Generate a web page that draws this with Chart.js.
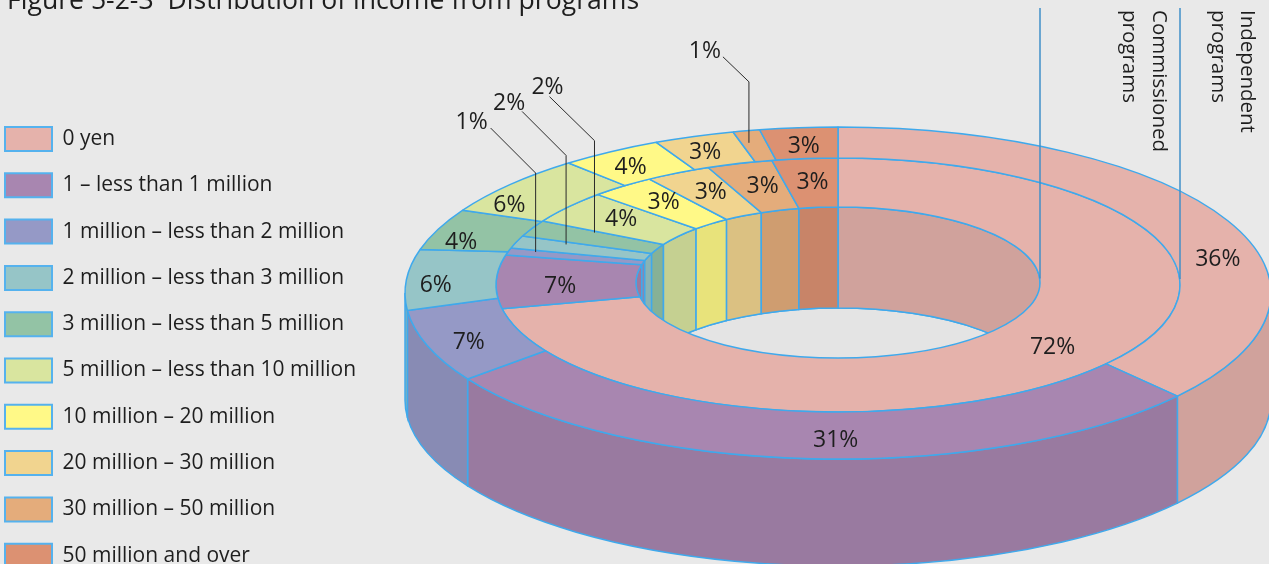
<!DOCTYPE html>
<html>
<head>
<meta charset="utf-8">
<style>html,body{margin:0;padding:0;background:#e9e9e9;overflow:hidden}#w{width:1269px;height:564px;position:relative}</style>
<script src="https://cdn.jsdelivr.net/npm/chart.js@4"></script>
</head>
<body>
<div id="w"><canvas id="c" width="1269" height="564"></canvas></div>
<script>
const titleText = 'Figure 5-2-3  Distribution of income from programs';
const categories = ['0 yen','1 – less than 1 million','1 million – less than 2 million','2 million – less than 3 million','3 million – less than 5 million','5 million – less than 10 million','10 million – 20 million','20 million – 30 million','30 million – 50 million','50 million and over'];
const independentValues = [35.7,30.7,7,5.9,4.1,6,3.8,3,1,2.9];
const commissionedValues = [72,6.8,0.9,1.6,2.1,4.2,3.1,3.1,3.1,3.1];
const sliceColors = ['#E5B2AB','#A886B0','#9599C6','#96C5C7','#93C3A5','#D9E59F','#FFF987','#F1D48F','#E4AC7B','#DC9172'];
const seriesNames = [['Independent','programs'],['Commissioned','programs']];

/* label nudges from each slice's projected centre */
const independentNudge = [[31,32],[22,3],[-2,5],[-16,6],[-19,8],[-35,10],[-4,1],[-4,0],[-7,-3],[1,1]];
const commissionedNudge = [[5,-3],[-6,3],[-40,-5],[-16,-5],[0,-6],[-2,-4],[-3,-5],[0,-4],[3,-2],[1,-3]];
/* leader lines: dataset, slice, rise to the knee, start and label offset from the knee */
const leaders = [
  {ds:1,i:2,rise:79,start:[-45,-45],label:[-64,-53]},
  {ds:1,i:3,rise:89,start:[-44,-44],label:[-57,-54]},
  {ds:1,i:4,rise:92,start:[-45,-44],label:[-47,-55]},
  {ds:0,i:8,rise:61,start:[-26,-25],label:[-44,-32]}
];

const BORDER = '#3FA9EC', LINE = '#3F8FC8', INK = '#1e1e1e', FLOOR = '#e4e4e4';
const FF = '"Open Sans", sans-serif';
const CX = 838, OUT = 433, MID = 342, HOLE = 202;
const OUT_DEPTH = 107, HOLE_DEPTH = 101;
const rings = [[HOLE,282.5,75.5],[MID,285,127],[OUT,293,166]];

function ringAt(r){
  let a = rings[0], b = rings[1];
  if (r > MID){ a = rings[1]; b = rings[2]; }
  const t = (r-a[0])/(b[0]-a[0]);
  return {cy:a[1]+(b[1]-a[1])*t, ry:a[2]+(b[2]-a[2])*t};
}
function project(r,ang){
  const g = ringAt(r);
  return {x:CX+r*Math.cos(ang), y:g.cy+g.ry*Math.sin(ang)};
}
function darken(hex){
  const n = parseInt(hex.slice(1),16), f = 0.91;
  return 'rgb('+[(n>>16)&255,(n>>8)&255,n&255].map(v=>Math.round(v*f)).join(',')+')';
}
function wall(ctx,r,a0,a1,depth,color){
  if (a1<=a0) return;
  const g = ringAt(r);
  ctx.beginPath();
  ctx.ellipse(CX,g.cy,r,g.ry,0,a0,a1,false);
  ctx.ellipse(CX,g.cy+depth,r,g.ry,0,a1,a0,true);
  ctx.closePath();
  ctx.fillStyle = color;
  ctx.fill();
  ctx.strokeStyle = BORDER;
  ctx.lineWidth = 1.5;
  ctx.stroke();
}
const tilted = {
  id:'tilted',
  afterLayout(chart){
    const a = chart.chartArea;
    a.left = 407; a.right = 1269; a.top = 0; a.bottom = 564;
    a.width = a.right-a.left; a.height = a.bottom-a.top;
    const pad = chart.legend.options.labels.padding;
    chart.legend.left = 5-pad;
    chart.legend.top = 127-pad;
    chart.legend.bottom = 800;
    chart.titleBlock.left = 7;
  },
  beforeDatasetsDraw(chart){
    const ctx = chart.ctx;
    ctx.save();
    /* outer front wall */
    chart.getDatasetMeta(0).data.forEach((arc,i)=>{
      wall(ctx,OUT,Math.max(arc.startAngle,0),Math.min(arc.endAngle,Math.PI),OUT_DEPTH,darken(sliceColors[i]));
    });
    /* hole floor */
    const h = ringAt(HOLE);
    ctx.beginPath();
    ctx.ellipse(CX,h.cy+HOLE_DEPTH,HOLE,h.ry,0,0,Math.PI*2);
    ctx.fillStyle = FLOOR; ctx.fill();
    ctx.strokeStyle = BORDER; ctx.lineWidth = 1.5; ctx.stroke();
    /* hole back wall */
    chart.getDatasetMeta(1).data.forEach((arc,i)=>{
      const c = darken(sliceColors[i]);
      wall(ctx,HOLE,arc.startAngle,Math.min(arc.endAngle,0),HOLE_DEPTH,c);
      wall(ctx,HOLE,Math.max(arc.startAngle,Math.PI),arc.endAngle,HOLE_DEPTH,c);
    });
    ctx.restore();
    /* the library's arcs get laid on the tilted plane */
    const x0 = chart.getDatasetMeta(0).data[0].x, y0 = chart.getDatasetMeta(0).data[0].y;
    const lineTo = ctx.lineTo.bind(ctx), ell = ctx.ellipse.bind(ctx);
    ctx.arc = (x,y,r,a,b,ccw)=>{ const g = ringAt(r); ell(CX,g.cy,r,g.ry,0,a,b,!!ccw); };
    ctx.lineTo = (x,y)=>{
      const p = project(Math.hypot(x-x0,y-y0),Math.atan2(y-y0,x-x0));
      lineTo(p.x,p.y);
    };
  },
  afterDatasetsDraw(chart){
    const ctx = chart.ctx;
    delete ctx.arc; delete ctx.lineTo;
    ctx.save();
    /* pointer rules from the series names */
    ctx.strokeStyle = LINE; ctx.lineWidth = 1.5;
    [HOLE,MID,OUT-0.5].forEach(r=>{
      const g = ringAt(r);
      ctx.beginPath(); ctx.moveTo(CX+r,8); ctx.lineTo(CX+r,Math.min(g.cy,283)-4); ctx.stroke();
    });
    ctx.fillStyle = INK;
    ctx.font = '20.5px '+FF;
    ctx.textAlign = 'left'; ctx.textBaseline = 'middle';
    const colX = [[1247,1218],[1159,1129]];
    seriesNames.forEach((lines,s)=>lines.forEach((t,l)=>{
      ctx.save();
      ctx.translate(colX[s][l],10);
      ctx.rotate(Math.PI/2);
      ctx.fillText(t,0,0);
      ctx.restore();
    }));
    /* percentages */
    ctx.font = '23px '+FF;
    ctx.textAlign = 'center';
    const nudges = [independentNudge,commissionedNudge];
    const vals = [independentValues,commissionedValues];
    [0,1].forEach(d=>{
      chart.getDatasetMeta(d).data.forEach((arc,i)=>{
        const mid = (arc.startAngle+arc.endAngle)/2, r = (arc.innerRadius+arc.outerRadius)/2;
        const p = project(r,mid);
        const e = {x:p.x+nudges[d][i][0], y:p.y+nudges[d][i][1]};
        const lead = leaders.find(l=>l.ds===d&&l.i===i);
        let tx = e.x, ty = e.y;
        if (lead){
          const kx = e.x, ky = e.y-lead.rise;
          ctx.strokeStyle = '#2a2a2a'; ctx.lineWidth = 1;
          ctx.beginPath();
          ctx.moveTo(kx+lead.start[0],ky+lead.start[1]);
          ctx.lineTo(kx,ky); ctx.lineTo(kx,e.y); ctx.stroke();
          tx = kx+lead.label[0]; ty = ky+lead.label[1];
        }
        ctx.fillStyle = INK;
        ctx.fillText(Math.round(vals[d][i])+'%',tx,ty+2);
      });
    });
    ctx.restore();
  }
};
new Chart(document.getElementById('c'),{
  type:'doughnut',
  data:{labels:categories,datasets:[
    {label:'Independent programs',data:independentValues,backgroundColor:sliceColors,borderColor:BORDER,borderWidth:1.5,weight:91,clip:false},
    {label:'Commissioned programs',data:commissionedValues,backgroundColor:sliceColors,borderColor:BORDER,borderWidth:1.5,weight:140,clip:false}
  ]},
  options:{
    responsive:false,animation:false,
    radius:OUT,cutout:(HOLE/OUT*100)+'%',
    layout:{padding:0},
    plugins:{
      title:{display:true,text:titleText,align:'start',color:INK,font:{family:FF,size:26.6,weight:'normal'},padding:{top:-15,bottom:0}},
      legend:{position:'left',align:'start',labels:{
        boxWidth:47,boxHeight:24,padding:22.3,color:INK,font:{family:FF,size:21},
        generateLabels(chart){
          return Chart.overrides.doughnut.plugins.legend.labels.generateLabels(chart).map(l=>Object.assign(l,{lineWidth:2,strokeStyle:'#55B2EE'}));
        }
      }},
      tooltip:{enabled:false}
    }
  },
  plugins:[tilted]
});
</script>
</body>
</html>
